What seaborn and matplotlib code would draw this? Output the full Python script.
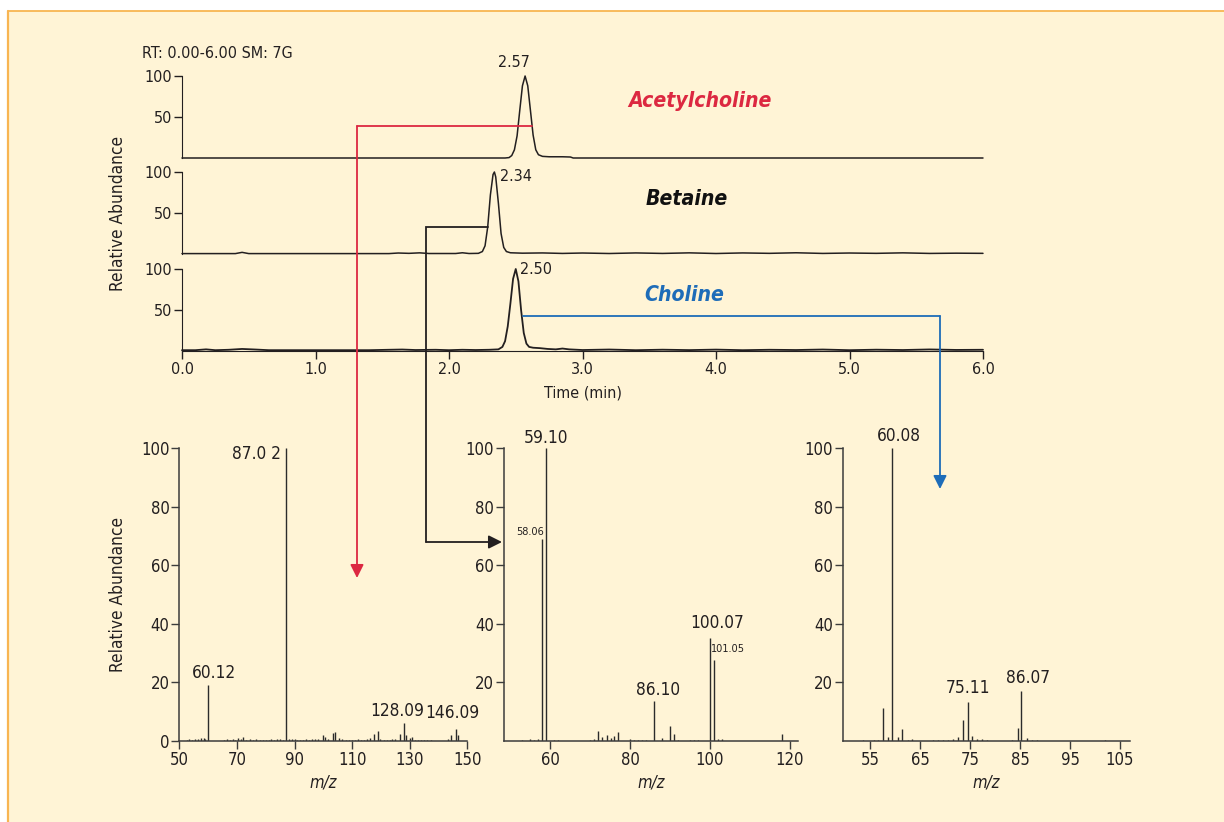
import numpy as np
import pandas as pd
import matplotlib.pyplot as plt
import seaborn as sns
from matplotlib import font_manager
from matplotlib.lines import Line2D
from matplotlib.patches import Rectangle

plt.switch_backend('Agg')

# Chromatogram traces (retention time in min, relative abundance)
ach_time = [0.00, 2.42, 2.45, 2.47, 2.49, 2.51, 2.53, 2.55, 2.57, 2.59, 2.61, 2.63,
            2.65, 2.67, 2.70, 2.75, 2.85, 2.91, 2.93, 6.00]
ach_int = [0, 0, 0.5, 3, 10, 27, 58, 88, 100, 88, 58, 28, 10, 4, 2, 1.5, 1.5, 1.2, 0, 0]

bet_time = [0.00, 0.40, 0.45, 0.50, 1.55, 1.62, 1.70, 1.78, 1.85, 2.05, 2.10, 2.15,
            2.22, 2.25, 2.27, 2.29, 2.31, 2.33, 2.34, 2.35, 2.37, 2.39, 2.41, 2.43,
            2.46, 2.55, 2.70, 2.85, 3.00, 3.20, 3.40, 3.60, 3.80, 4.00, 4.20, 4.40,
            4.60, 4.80, 5.00, 5.20, 5.40, 5.60, 5.80, 6.00]
bet_int = [0.5, 0.5, 2, 0.5, 0.5, 1.2, 0.8, 1.4, 0.6, 0.6, 1.5, 0.6,
           0.8, 3, 10, 33, 72, 97, 100, 94, 62, 25, 8, 3,
           1.5, 1, 1.3, 0.7, 1.2, 0.6, 1.3, 0.7, 1.4, 0.6, 1.3, 0.8,
           1.5, 0.7, 1.2, 0.8, 1.4, 0.7, 1.0, 0.8]

cho_time = [0.00, 0.10, 0.18, 0.25, 0.35, 0.45, 0.55, 0.65, 0.80, 1.00, 1.20, 1.40,
            1.55, 1.65, 1.75, 1.90, 2.00, 2.10, 2.20, 2.30, 2.37, 2.40, 2.42, 2.44,
            2.46, 2.48, 2.50, 2.52, 2.54, 2.56, 2.58, 2.60, 2.63, 2.68, 2.74, 2.80,
            2.85, 2.90, 3.00, 3.20, 3.40, 3.60, 3.80, 4.00, 4.20, 4.40, 4.60, 4.80,
            5.00, 5.20, 5.40, 5.60, 5.80, 6.00]
cho_int = [1, 1, 2, 1, 1.5, 2.5, 1.8, 1, 1, 1, 1, 1,
           1.5, 1.8, 1.2, 1.5, 1, 1.5, 1.2, 1.5, 2, 5, 12, 30,
           58, 88, 100, 85, 50, 22, 9, 5, 4, 3.5, 2.5, 2,
           3, 2, 1.2, 1.8, 1.0, 1.6, 1.1, 1.7, 1.0, 1.5, 1.2, 1.8,
           1.0, 1.6, 1.2, 1.9, 1.3, 1.5]

# MS/MS spectra (m/z, relative abundance)
ach_mz = [52.5, 53.5, 54.5, 55.5, 56.5, 57.5, 58.5, 59.0, 60.12, 65.5, 66.5, 67.5,
          68.5, 69.5, 70.3, 71.5, 72.0, 73.0, 74.5, 75.5, 76.5, 78.0, 79.0, 80.0,
          81.0, 82.0, 83.0, 84.0, 85.0, 86.0, 87.02, 88.0, 89.0, 90.0, 91.0, 92.0,
          93.0, 94.0, 95.0, 96.0, 97.0, 98.0, 99.8, 100.7, 101.5, 103.4, 104.2, 105.3,
          106.5, 108.0, 109.0, 110.0, 111.0, 112.0, 113.0, 114.0, 115.0, 116.2, 117.7, 118.9,
          119.8, 121.0, 122.0, 123.0, 124.0, 125.0, 126.6, 128.09, 128.8, 130.0, 130.7, 132.0,
          133.0, 134.0, 135.0, 136.0, 137.5, 143.3, 144.5, 146.09, 146.6]
ach_ab = [0.5, 0.6, 0.5, 0.7, 0.8, 1.0, 1.0, 0.7, 19, 0.5, 0.6, 0.5,
          0.6, 0.5, 1.0, 0.6, 1.2, 0.5, 0.6, 0.5, 0.6, 0.5, 0.5, 0.5,
          0.5, 0.6, 0.5, 0.6, 0.7, 0.5, 100, 0.7, 0.6, 0.6, 0.5, 0.5,
          0.5, 0.6, 0.5, 0.7, 0.8, 0.6, 2.0, 1.3, 0.7, 2.8, 3.0, 1.0,
          0.6, 0.5, 0.5, 0.5, 0.5, 0.6, 0.5, 0.5, 0.6, 1.0, 2.5, 3.3,
          0.6, 0.5, 0.5, 0.5, 0.6, 0.6, 2.3, 6.2, 2.0, 1.0, 1.2, 0.5,
          0.5, 0.5, 0.5, 0.5, 0.5, 0.7, 2.0, 4.0, 2.0]

bet_mz = [53.0, 55.0, 56.0, 57.0, 58.06, 59.10, 61.0, 62.0, 70.0, 71.0, 71.9, 72.9,
          74.2, 75.2, 76.1, 77.0, 80.0, 81.0, 82.0, 83.0, 84.0, 86.10, 87.9, 89.9,
          90.9, 92.0, 95.0, 96.0, 97.0, 100.07, 101.05, 102.0, 103.0, 118.0]
bet_ab = [0.5, 0.6, 0.5, 0.7, 69, 100, 0.5, 0.5, 0.5, 0.8, 3.3, 1.2,
          2.0, 1.0, 1.7, 3.0, 0.6, 0.5, 0.5, 0.5, 0.5, 13.5, 1.0, 5.0,
          2.5, 0.5, 0.5, 0.5, 0.5, 35, 27.7, 0.6, 0.8, 2.3]

cho_mz = [53.5, 55.7, 56.5, 57.5, 58.5, 59.4, 60.5, 61.4, 62.5, 63.3, 67.5, 68.5,
          69.5, 70.5, 71.5, 72.5, 73.5, 74.5, 75.4, 76.4, 77.4, 78.4, 83.3, 84.5,
          85.1, 86.3, 87.3, 88.3, 102.0]
cho_ab = [0.5, 0.5, 0.5, 11.4, 1.3, 100, 1.4, 4.0, 0.5, 0.7, 0.4, 0.5,
          0.5, 0.4, 0.8, 1.2, 7.0, 13.3, 1.8, 0.8, 0.6, 0.4, 0.5, 4.5,
          17, 1.0, 0.5, 0.5, 0.5]

# Figure geometry (pixels)
W, H = 1224, 822
INK = '#231F20'
RED = '#DC2841'
BLUE = '#1E6CB8'
CREAM = '#FFF4D6'
ORANGE = '#F8B552'

sns.set_style('ticks')

# Pick a narrow sans if one is installed, else plain Liberation Sans
ttf = font_manager.fontManager.ttflist
names = {f.name for f in ttf}
fscale = 1.0
if 'Liberation Sans Narrow' in names:
    plt.rcParams['font.family'] = ['Liberation Sans Narrow', 'DejaVu Sans']
elif any(f.name == 'DejaVu Sans' and 'Condensed' in f.fname for f in ttf):
    plt.rcParams['font.family'] = ['DejaVu Sans']
    plt.rcParams['font.stretch'] = 'condensed'
    fscale = 0.92
else:
    plt.rcParams['font.family'] = ['Liberation Sans', 'DejaVu Sans']
    fscale = 0.9
plt.rcParams['text.color'] = INK
plt.rcParams['axes.labelcolor'] = INK
plt.rcParams['xtick.color'] = INK
plt.rcParams['ytick.color'] = INK


def fs(size):
    return size * fscale


def px_axes(fig, x0, x1, y_top, y_bot):
    return fig.add_axes([x0 / W, 1 - y_bot / H, (x1 - x0) / W, (y_bot - y_top) / H])


fig = plt.figure(figsize=(W / 100, H / 100), dpi=100, facecolor=CREAM)
# white strips and the orange frame of the panel
fig.add_artist(Rectangle((0, 1 - 11 / H), 1, 11 / H, transform=fig.transFigure,
                         facecolor='white', edgecolor='none', zorder=-10))
fig.add_artist(Rectangle((0, 0), 8 / W, 1, transform=fig.transFigure,
                         facecolor='white', edgecolor='none', zorder=-10))
fig.add_artist(Line2D([8 / W, 1], [1 - 11 / H, 1 - 11 / H], transform=fig.transFigure,
                      color=ORANGE, lw=1.3, zorder=-9))
fig.add_artist(Line2D([8 / W, 8 / W], [0, 1 - 11 / H], transform=fig.transFigure,
                      color=ORANGE, lw=1.6, zorder=-9))

# Chromatograms
chrom = [(ach_time, ach_int, 76, 158), (bet_time, bet_int, 172, 254), (cho_time, cho_int, 269, 351)]
chrom_axes = []
for i, (t, y, top, bot) in enumerate(chrom):
    ax = px_axes(fig, 182, 983, top, bot)
    ax.set_facecolor('none')
    df = pd.DataFrame({'time': t, 'abundance': y})
    sns.lineplot(data=df, x='time', y='abundance', ax=ax, color=INK,
                 lw=1.3 if i == 2 else 1.1, estimator=None)
    ax.lines[-1].set_clip_on(False)
    ax.set_xlim(0, 6)
    ax.set_ylim(0, 100)
    ax.set_yticks([50, 100])
    ax.set_ylabel('')
    ax.set_xlabel('')
    sns.despine(ax=ax, bottom=(i < 2))
    ax.spines['left'].set_color(INK)
    ax.spines['bottom'].set_color(INK)
    ax.tick_params(axis='y', length=6, width=1, labelsize=fs(12.5), pad=1)
    if i < 2:
        ax.set_xticks([])
    else:
        ax.set_xticks([0, 1, 2, 3, 4, 5, 6])
        ax.set_xticklabels([f'{v:.1f}' for v in [0, 1, 2, 3, 4, 5, 6]])
        ax.tick_params(axis='x', length=6, width=1, labelsize=fs(12.5), pad=2)
        ax.set_xlabel('Time (min)', fontsize=fs(12.5), labelpad=6)
    chrom_axes.append(ax)

ax1, ax2, ax3 = chrom_axes
ax1.text(-0.3, 128, 'RT: 0.00-6.00 SM: 7G', fontsize=fs(12.5), ha='left', va='center')
ax1.text(2.49, 117, '2.57', fontsize=fs(12.5), ha='center', va='center')
ax2.text(2.38, 95, '2.34', fontsize=fs(12.5), ha='left', va='center')
ax3.text(2.53, 99, '2.50', fontsize=fs(12.5), ha='left', va='center')
ax1.text(3.88, 69, 'Acetylcholine', fontsize=fs(16.5), weight='bold', style='italic',
         color=RED, ha='center', va='center')
ax2.text(3.78, 67, 'Betaine', fontsize=fs(16.5), weight='bold', style='italic',
         color='#111111', ha='center', va='center')
ax3.text(3.76, 68, 'Choline', fontsize=fs(16.5), weight='bold', style='italic',
         color=BLUE, ha='center', va='center')
fig.text(118 / W, 1 - 213 / H, 'Relative Abundance', rotation=90, fontsize=fs(13.5),
         ha='center', va='center')

# Spectra
spectra = [
    (ach_mz, ach_ab, 179.3, 467.3, (50, 150), [0, 20, 40, 60, 80, 100], [50, 70, 90, 110, 130, 150]),
    (bet_mz, bet_ab, 504, 798, (48.5, 122), [20, 40, 60, 80, 100], [60, 80, 100, 120]),
    (cho_mz, cho_ab, 842.5, 1130, (49.5, 107), [20, 40, 60, 80, 100], [55, 65, 75, 85, 95, 105]),
]
spec_axes = []
for mz, ab, x0, x1, xl, yt, xt in spectra:
    ax = px_axes(fig, x0, x1, 448, 741)
    ax.set_facecolor('none')
    ax.vlines(mz, 0, ab, color='#2b2b2b', lw=1.0)
    ax.set_xlim(*xl)
    ax.set_ylim(0, 100)
    ax.set_yticks(yt)
    ax.set_xticks(xt)
    sns.despine(ax=ax)
    for s in ['left', 'bottom']:
        ax.spines[s].set_color('#3c3c3c')
        ax.spines[s].set_linewidth(1.1)
    ax.tick_params(length=6, width=1, labelsize=fs(13), pad=1, color='#3c3c3c')
    ax.set_xlabel('m/z', fontsize=fs(13), style='italic', labelpad=3.5)
    spec_axes.append(ax)

sa, sb, sc = spec_axes
sa.text(85.3, 98, '87.0 2', fontsize=fs(13.5), ha='right', va='center')
sa.text(62.1, 23.2, '60.12', fontsize=fs(13.5), ha='center', va='center')
sa.text(125.6, 10.2, '128.09', fontsize=fs(13.5), ha='center', va='center')
sa.text(144.9, 9.6, '146.09', fontsize=fs(13.5), ha='center', va='center')
sb.text(59.0, 103.4, '59.10', fontsize=fs(13.5), ha='center', va='center')
sb.text(58.5, 71.3, '58.06', fontsize=fs(8.5), ha='right', va='center')
sb.text(87.0, 17.4, '86.10', fontsize=fs(13.5), ha='center', va='center')
sb.text(101.75, 40.3, '100.07', fontsize=fs(13.5), ha='center', va='center')
sb.text(100.25, 31.4, '101.05', fontsize=fs(8.5), ha='left', va='center')
sc.text(60.8, 104, '60.08', fontsize=fs(13.5), ha='center', va='center')
sc.text(74.6, 18.1, '75.11', fontsize=fs(13.5), ha='center', va='center')
sc.text(86.6, 21.5, '86.07', fontsize=fs(13.5), ha='center', va='center')
fig.text(118 / W, 1 - 594 / H, 'Relative Abundance', rotation=90, fontsize=fs(13.5),
         ha='center', va='center')

# Connector arrows linking each peak to its spectrum (figure pixel space)
ov = fig.add_axes([0, 0, 1, 1])
ov.set_xlim(0, W)
ov.set_ylim(H, 0)
ov.axis('off')
ov.patch.set_alpha(0)


def connector(points, color):
    xs = [p[0] for p in points[:-1]]
    ys = [p[1] for p in points[:-1]]
    ov.plot(xs, ys, color=color, lw=1.3, solid_joinstyle='miter')
    ov.annotate('', xy=points[-1], xytext=points[-2],
                arrowprops=dict(arrowstyle='-|>', color=color, lw=1.3,
                                mutation_scale=20, shrinkA=0, shrinkB=0))


connector([(532, 126), (357, 126), (357, 578)], RED)
connector([(488, 227), (426, 227), (426, 542), (502, 542)], INK)
connector([(523, 316), (940, 316), (940, 489)], BLUE)

fig.savefig('out.png', dpi=100, facecolor=CREAM)
